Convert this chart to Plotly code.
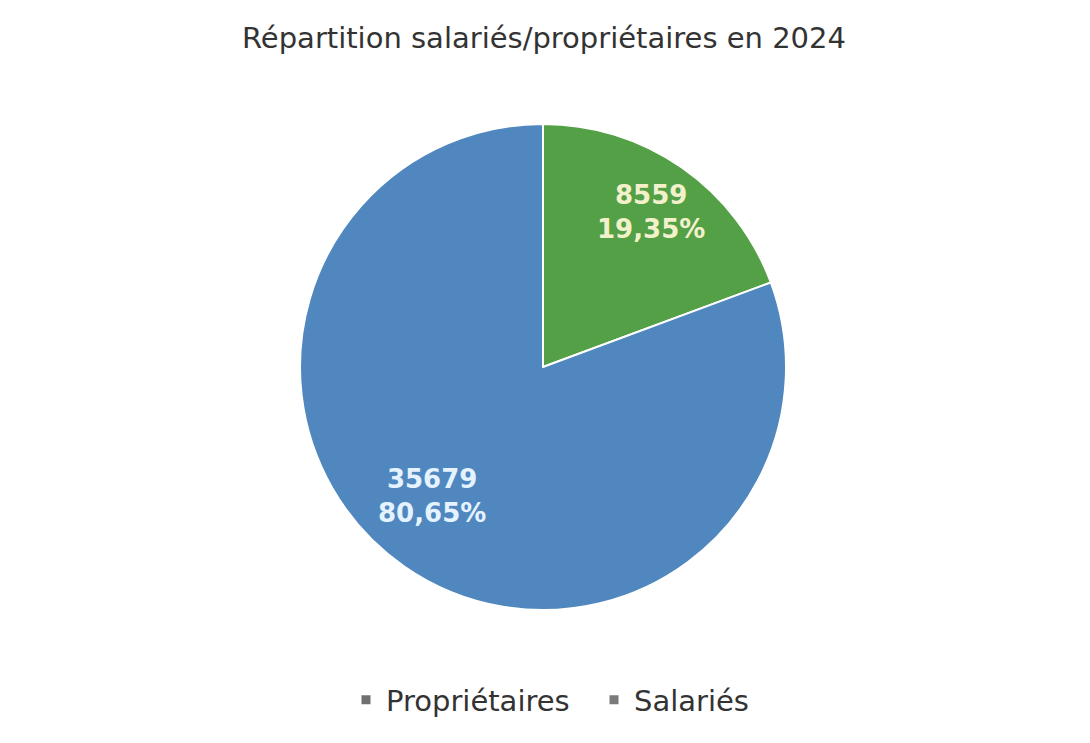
import math
import plotly.graph_objects as go

categories = ["Propriétaires", "Salariés"]
values = [8559, 35679]
colors = ["#53A046", "#4F87BE"]
legend_marker_colors = ["#6F6F6F", "#7A7A7A"]
label_colors = ["#F3F0CC", "#E4F3FF"]

W, H = 1090, 743
# intended page-pixel geometry (page renders with an 8px offset)
pie_top, pie_bottom = 116, 602
m_l, m_r = 40, 60
dom_w = W - m_l - m_r
dom_h = pie_bottom - pie_top
R = dom_h / 2

# label placement (fraction of radius, angular shift in degrees)
label_radius = [0.775, 0.70]
label_shift = [0.0, 5.7]

fig = go.Figure()
fig.add_trace(go.Pie(
    labels=categories,
    values=values,
    sort=False,
    direction="clockwise",
    rotation=0,
    marker=dict(colors=colors, line=dict(color="white", width=2)),
    textinfo="none",
    showlegend=False,
    hoverinfo="label+value+percent",
))

for name, c in zip(categories, legend_marker_colors):
    fig.add_trace(go.Scatter(
        x=[None], y=[None], mode="markers", name=name,
        marker=dict(symbol="square", size=9, color=c),
        showlegend=True, hoverinfo="skip",
    ))

total = sum(values)
annotations = []
cum = 0.0
for v, col, rf, sh in zip(values, label_colors, label_radius, label_shift):
    mid = (cum + v / 2) / total * 360 + sh
    cum += v
    ang = math.radians(mid)
    dx = math.sin(ang) * R * rf
    dy = math.cos(ang) * R * rf
    pct = f"{v / total * 100:.2f}".replace(".", ",")
    annotations.append(dict(
        xref="paper", yref="paper",
        x=0.5 + dx / dom_w, y=0.5 + dy / dom_h,
        xanchor="center", yanchor="middle",
        text=f"<b>{v}<br>{pct}%</b>",
        showarrow=False,
        font=dict(family="DejaVu Sans", size=26, color=col),
    ))

fig.update_layout(
    width=W, height=H,
    separators=", ",
    paper_bgcolor="white",
    plot_bgcolor="white",
    margin=dict(l=m_l, r=m_r, t=pie_top, b=H - pie_bottom, autoexpand=False),
    title=dict(
        text="Répartition salariés/propriétaires en 2024",
        x=536 / W, xanchor="center",
        y=1 - 30 / H, yanchor="middle",
        font=dict(family="DejaVu Sans", size=29, color="#333333"),
    ),
    legend=dict(
        orientation="h",
        x=(338 - m_l) / dom_w, xanchor="left",
        y=-(692 - pie_bottom) / dom_h, yanchor="middle",
        font=dict(family="DejaVu Sans", size=29, color="#333333"),
        itemwidth=30,
        entrywidth=203,
    ),
    xaxis=dict(visible=False),
    yaxis=dict(visible=False),
    annotations=annotations,
)

fig.write_html("out.html")
